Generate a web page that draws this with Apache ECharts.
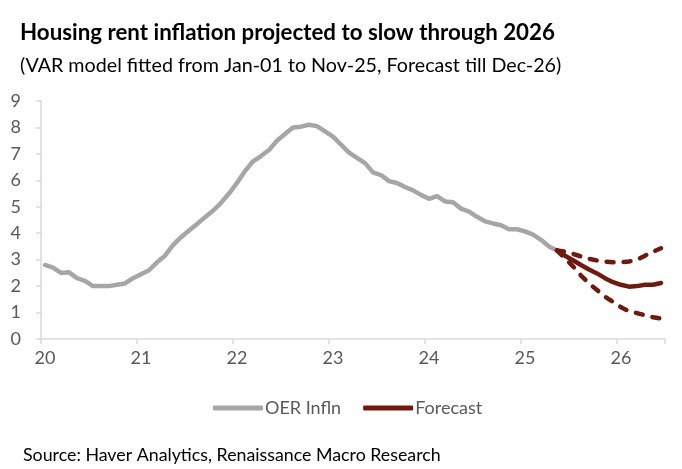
<!DOCTYPE html>
<html>
<head>
<meta charset="utf-8">
<script src="https://cdn.jsdelivr.net/npm/echarts@6/dist/echarts.min.js"></script>
<style>
html,body{margin:0;padding:0;background:#fff;}
#chart{width:682px;height:469px;}
</style>
</head>
<body>
<div id="chart"></div>
<script>
// Month categories Jan-2020 .. Jun-2026
var years = ['20','21','22','23','24','25','26'];
var months = ['01','02','03','04','05','06','07','08','09','10','11','12'];
var categories = [];
years.forEach(function (y) {
  months.forEach(function (m) {
    if (!(y === '26' && Number(m) > 6)) categories.push(y + '-' + m);
  });
});

// OER inflation, Jan-20 .. May-25
var oerInfln = [2.80,2.70,2.50,2.52,2.30,2.20,2.00,2.00,2.00,2.05,2.10,2.30,
  2.45,2.60,2.90,3.15,3.55,3.85,4.10,4.35,4.60,4.85,5.15,5.50,
  5.90,6.35,6.72,6.92,7.15,7.50,7.75,8.00,8.03,8.10,8.05,7.85,
  7.65,7.35,7.05,6.85,6.65,6.30,6.20,5.97,5.90,5.75,5.62,5.45,
  5.30,5.40,5.20,5.17,4.93,4.82,4.62,4.45,4.37,4.30,4.15,4.15,
  4.07,3.95,3.75,3.50,3.35];

// Forecast, May-25 .. Jun-26
var forecastStart = 64;
var forecastCentral = [3.35,3.15,2.98,2.80,2.63,2.48,2.30,2.15,2.05,1.98,2.00,2.05,2.05,2.12];
var forecastUpper   = [3.35,3.30,3.22,3.12,3.03,2.97,2.93,2.90,2.90,2.93,3.00,3.15,3.30,3.43];
var forecastLower   = [3.35,3.05,2.75,2.40,2.10,1.85,1.60,1.40,1.20,1.05,0.98,0.90,0.82,0.78];

function pad(arr) {
  var out = [];
  for (var i = 0; i < forecastStart; i++) out.push(null);
  return out.concat(arr);
}

var FONT = 'Lato';
var RED = '#701A0E';
var chart = echarts.init(document.getElementById('chart'));
chart.setOption({
  animation: false,
  backgroundColor: '#fff',
  textStyle: { fontFamily: FONT },
  title: [
    { text: 'Housing rent inflation projected to slow through 2026', left: 15, top: 17,
      textStyle: { fontFamily: FONT, fontSize: 22.3, fontWeight: 'bold', color: '#000' } },
    { text: '(VAR model fitted from Jan-01 to Nov-25, Forecast till Dec-26)', left: 15, top: 51,
      textStyle: { fontFamily: FONT, fontSize: 19.7, fontWeight: 'normal', color: '#000' } },
    { text: 'Source: Haver Analytics, Renaissance Macro Research', left: 18, top: 441,
      textStyle: { fontFamily: FONT, fontSize: 17.8, fontWeight: 'normal', color: '#000' } }
  ],
  legend: {
    data: [
      { name: 'OER Infln', icon: 'roundRect' },
      { name: 'Forecast', icon: 'roundRect' }
    ],
    left: 213, top: 399, padding: 0,
    itemWidth: 50, itemHeight: 5, itemGap: 22,
    textStyle: { fontFamily: FONT, fontSize: 18, color: '#595959', padding: [0, 0, 0, -3] }
  },
  grid: { left: 41, right: 17, top: 101, bottom: 130, containLabel: false },
  xAxis: {
    type: 'category',
    data: categories,
    boundaryGap: true,
    axisLine: { show: true, lineStyle: { color: '#D9D9D9', width: 1.5 } },
    axisTick: { show: true, alignWithLabel: false, length: 5,
      interval: function (i) { return i % 12 === 0; },
      lineStyle: { color: '#D9D9D9', width: 1.5 } },
    axisLabel: {
      interval: function (i) { return i % 12 === 0; },
      formatter: function (v) { return v.slice(0, 2); },
      color: '#595959', fontSize: 18, fontFamily: FONT, margin: 10
    },
    splitLine: { show: false }
  },
  yAxis: {
    type: 'value', min: 0, max: 9, interval: 1,
    axisLine: { show: true, lineStyle: { color: '#D9D9D9', width: 1.5 } },
    axisTick: { show: true, length: 5, lineStyle: { color: '#D9D9D9', width: 1.5 } },
    axisLabel: { color: '#595959', fontSize: 18, fontFamily: FONT, margin: 20 },
    splitLine: { show: false }
  },
  series: [
    { name: 'OER Infln', type: 'line', data: oerInfln, showSymbol: false, symbol: 'none',
      lineStyle: { color: '#A6A6A6', width: 4.5, join: 'round', cap: 'round' },
      itemStyle: { color: '#A6A6A6' }, z: 2 },
    { name: 'Forecast', type: 'line', data: pad(forecastCentral), showSymbol: false, symbol: 'none',
      lineStyle: { color: RED, width: 4.5, cap: 'round', join: 'round' }, itemStyle: { color: RED }, z: 4 },
    { name: 'Upper', type: 'line', data: pad(forecastUpper), showSymbol: false, symbol: 'none',
      lineStyle: { color: RED, width: 4.5, type: [7, 10], cap: 'round', join: 'round' }, itemStyle: { color: RED }, z: 3 },
    { name: 'Lower', type: 'line', data: pad(forecastLower), showSymbol: false, symbol: 'none',
      lineStyle: { color: RED, width: 4.5, type: [7, 10], cap: 'round', join: 'round' }, itemStyle: { color: RED }, z: 3 }
  ]
});
</script>
</body>
</html>
